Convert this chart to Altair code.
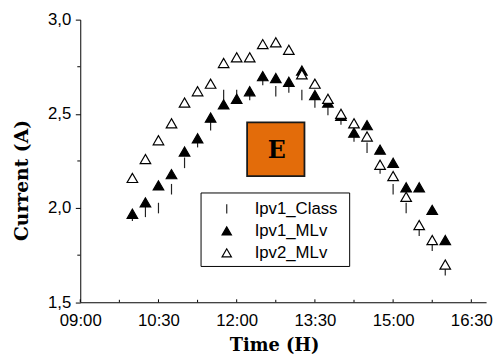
import altair as alt
import pandas as pd

# ---- data ----
times = ["10:00", "10:15", "10:30", "10:45", "11:00", "11:15", "11:30", "11:45",
         "12:00", "12:15", "12:30", "12:45", "13:00", "13:15", "13:30", "13:45",
         "14:00", "14:15", "14:30", "14:45", "15:00", "15:15", "15:30", "15:45", "16:00"]
ipv1_class = [1.96, 1.98, 2.00, 2.10, 2.24, 2.35, 2.44, 2.60, 2.60, 2.60, 2.68, 2.62, 2.64,
              2.60, 2.56, 2.52, 2.47, 2.38, 2.32, 2.21, 2.10, 2.00, 1.88, 1.80, 1.67]
ipv1_mlv = [1.97, 2.03, 2.12, 2.18, 2.30, 2.37, 2.48, 2.55, 2.58, 2.62, 2.70, 2.69, 2.67,
            2.73, 2.60, 2.56, 2.49, 2.40, 2.44, 2.31, 2.24, 2.11, 2.11, 1.99, 1.83]
ipv2_mlv = [2.16, 2.26, 2.36, 2.45, 2.56, 2.62, 2.66, 2.77, 2.80, 2.80, 2.87, 2.88, 2.84,
            2.71, 2.66, 2.58, 2.50, 2.45, 2.38, 2.23, 2.17, 2.06, 1.91, 1.83, 1.70]
series_names = ["Ipv1_Class", "Ipv1_MLv", "Ipv2_MLv"]

x_domain = ["09:00", "16:47"]
y_domain = [1.5, 3.0]
x_major = ["09:00", "10:30", "12:00", "13:30", "15:00", "16:30"]
x_minor = ["09:45", "11:15", "12:45", "14:15", "15:45"]
y_major = [1.5, 2.0, 2.5, 3.0]
y_minor = [1.75, 2.25, 2.75]

box_time = ["12:12", "13:18"]
box_current = [2.17, 2.455]
label_time = ["12:46"]
label_current = [2.30]
label_text = ["E"]
legend_time = ["11:19", "14:10"]
legend_current = [1.69, 2.08]


def to_min(s):
    h, m = s.split(":")
    return int(h) * 60 + int(m)


rows = []
for name, vals in zip(series_names, [ipv1_class, ipv1_mlv, ipv2_mlv]):
    for t, v in zip(times, vals):
        rows.append({"t": to_min(t), "current": v, "series": name})
df = pd.DataFrame(rows)

W, H = 411.7, 286.7
SANS = "Liberation Sans"
SERIF = "DejaVu Serif"

xscale = alt.Scale(domain=[to_min(v) for v in x_domain], nice=False, zero=False)
yscale = alt.Scale(domain=y_domain, nice=False, zero=False)

legend = alt.Legend(
    orient="none", legendX=123, legendY=176, title=None,
    labelFont=SANS, labelFontSize=17, labelColor="black",
    symbolSize=90, symbolStrokeWidth=1.2, padding=7.5, rowPadding=4.3,
    symbolOffset=9.6, labelOffset=19.8,
)

x_axis = alt.Axis(
    values=[to_min(v) for v in x_major],
    labelExpr="timeFormat(datetime(2000, 0, 1, 0, datum.value), '%H:%M')",
    grid=False, ticks=True, tickSize=0, labelPadding=23.3, labelBaseline="alphabetic",
    labelFont=SANS, labelFontSize=17, labelColor="black", labelFlush=False, labelOverlap=False,
    domainColor="black", domainWidth=1,
    title="Time (H)", titleFont=SERIF, titleFontWeight="bold", titleFontSize=18,
    titleColor="black", titleX=196.7, titleY=49.3, titleAlign="center",
    titleBaseline="alphabetic",
)
y_axis = alt.Axis(
    values=y_major,
    labelExpr="replace(format(datum.value, '.1f'), '.', ',')",
    grid=False, ticks=True, tickSize=5, tickColor="black", tickWidth=1, labelPadding=4.6,
    labelFont=SANS, labelFontSize=17, labelColor="black", labelFlush=False, labelOverlap=False,
    domainColor="black", domainWidth=1,
    title="Current (A)", titleFont=SERIF, titleFontWeight="bold", titleFontSize=19,
    titleColor="black", titleAngle=270, titleX=-59.6, titleY=162.7, titleAlign="center",
    titleBaseline="middle",
)

points = alt.Chart(df).mark_point(size=115, strokeWidth=1.2, opacity=1).encode(
    x=alt.X("t:Q", scale=xscale, axis=x_axis),
    y=alt.Y("current:Q", scale=yscale, axis=y_axis),
    shape=alt.Shape("series:N", scale=alt.Scale(domain=series_names,
                    range=["M0,-1L0,1", "triangle-up", "triangle-up"]), legend=legend),
    fill=alt.Fill("series:N", scale=alt.Scale(domain=series_names,
                  range=["transparent", "black", "white"]), legend=legend),
    stroke=alt.Stroke("series:N", scale=alt.Scale(domain=series_names,
                      range=["#222222", "black", "black"]), legend=legend),
)

xt_major = pd.DataFrame({"t": [to_min(v) for v in x_major]})
xt_minor = pd.DataFrame({"t": [to_min(v) for v in x_minor]})
yt_minor = pd.DataFrame({"current": y_minor})

x_major_ticks = alt.Chart(xt_major).mark_rule(color="black", strokeWidth=1).encode(
    x=alt.X("t:Q", scale=xscale, axis=x_axis), y=alt.value(H), y2=alt.value(H - 3))
x_minor_ticks = alt.Chart(xt_minor).mark_rule(color="black", strokeWidth=1).encode(
    x=alt.X("t:Q", scale=xscale, axis=x_axis), y=alt.value(H), y2=alt.value(H - 2.5))
y_minor_ticks = alt.Chart(yt_minor).mark_rule(color="black", strokeWidth=1).encode(
    y=alt.Y("current:Q", scale=yscale, axis=y_axis), x=alt.value(-3), x2=alt.value(0))

box_df = pd.DataFrame({"t": [to_min(box_time[0])], "t2": [to_min(box_time[1])],
                       "current": [box_current[0]], "c2": [box_current[1]]})
box = alt.Chart(box_df).mark_rect(fill="#E36C0A", stroke="#1a1a1a", strokeWidth=1.8).encode(
    x=alt.X("t:Q", scale=xscale, axis=x_axis), x2="t2",
    y=alt.Y("current:Q", scale=yscale, axis=y_axis), y2="c2")

lab_df = pd.DataFrame({"t": [to_min(v) for v in label_time], "current": label_current,
                       "txt": label_text})
lab = alt.Chart(lab_df).mark_text(font=SERIF, fontWeight="bold", fontSize=24, color="black",
                                  baseline="middle", align="center").encode(
    x=alt.X("t:Q", scale=xscale, axis=x_axis), y=alt.Y("current:Q", scale=yscale, axis=y_axis),
    text="txt:N")

leg_df = pd.DataFrame({"t": [to_min(legend_time[0])], "t2": [to_min(legend_time[1])],
                       "current": [legend_current[0]], "c2": [legend_current[1]]})
leg_frame = alt.Chart(leg_df).mark_rect(fill="white", stroke="black", strokeWidth=1).encode(
    x=alt.X("t:Q", scale=xscale, axis=x_axis), x2="t2",
    y=alt.Y("current:Q", scale=yscale, axis=y_axis), y2="c2")

chart = alt.layer(
    x_major_ticks, x_minor_ticks, y_minor_ticks, box, lab, leg_frame, points
).properties(
    width=W, height=H, autosize="none",
    padding={"left": 73.3, "top": 9.3, "right": 7, "bottom": 52},
    background="white",
).configure_view(stroke=None)

chart.save("out.html", embed_options={"renderer": "svg", "actions": False})
